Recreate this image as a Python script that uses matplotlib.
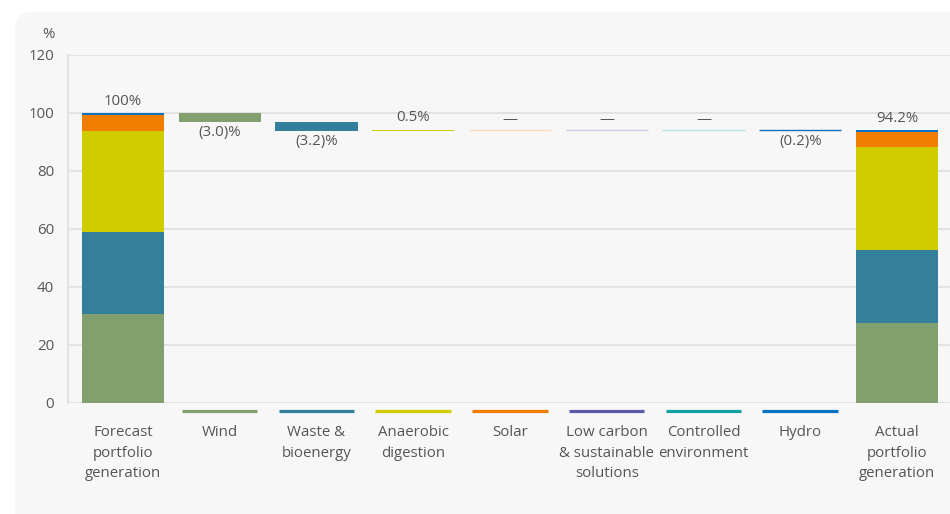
import matplotlib
matplotlib.use("Agg")
import matplotlib.pyplot as plt
from matplotlib.patches import FancyBboxPatch

plt.rcParams['font.family'] = ['Open Sans', 'DejaVu Sans']

categories = ["Forecast\nportfolio\ngeneration", "Wind", "Waste &\nbioenergy", "Anaerobic\ndigestion",
              "Solar", "Low carbon\n& sustainable\nsolutions", "Controlled\nenvironment", "Hydro",
              "Actual\nportfolio\ngeneration"]
segments = ["Wind", "Waste & bioenergy", "Anaerobic digestion", "Solar",
            "Low carbon & sustainable solutions", "Controlled environment", "Hydro"]
forecast = [30.6, 28.4, 34.8, 5.4, 0.0, 0.0, 0.8]
changes = [-3.0, -3.2, 0.5, 0.0, 0.0, 0.0, -0.2]
actual = [27.6, 25.2, 35.4, 5.4, 0.0, 0.0, 0.6]
change_labels = ["(3.0)%", "(3.2)%", "0.5%", "—", "—", "—", "(0.2)%"]
total_labels = ["100%", "94.2%"]
yticks = [0, 20, 40, 60, 80, 100, 120]

colors = ["#82a06e", "#337f9c", "#cfcc00", "#f07c00", "#5b5aa8", "#13a0a0", "#0a72c2"]
light = ["#c4d3b9", "#a3c6d4", "#e7e57f", "#fcd9bd", "#cfcce8", "#b5e3e6", "#9cc4e6"]
txt = "#555555"
grid = "#e2e2e2"
fs = 10.8

fig = plt.figure(figsize=(9.5, 5.14), dpi=100)
fig.patch.set_facecolor("white")

bg = fig.add_axes([0, 0, 1, 1], zorder=-5)
bg.set_axis_off()
bg.set_xlim(0, 950)
bg.set_ylim(514, 0)
bg.add_patch(FancyBboxPatch((15, 12), 1000, 540, boxstyle="round,pad=0,rounding_size=16",
                            facecolor="#f7f7f7", edgecolor="none"))

ax = fig.add_axes([68 / 950, 1 - 403 / 514, 1 - 68 / 950, (403 - 55) / 514], zorder=1)
ax.set_facecolor("none")
ax.set_ylim(0, 120)
ax.set_xlim(-0.568, 8.548)
ax.set_yticks(yticks)
ax.yaxis.grid(True, color=grid, lw=1.5, zorder=0)
ax.set_axisbelow(True)
for s in ["top", "right", "bottom"]:
    ax.spines[s].set_visible(False)
ax.spines["left"].set_color(grid)
ax.spines["left"].set_linewidth(1.5)
ax.tick_params(axis="y", length=0, labelsize=fs, labelcolor=txt, pad=10)

w = 0.85


def thin_lw(v):
    return 1.0 if abs(v) < 0.5 else 0


# Forecast stacked
bottom = 0
for v, c in zip(forecast, colors):
    if v > 0:
        ax.bar(0, v, w, bottom=bottom, color=c, edgecolor=c, lw=thin_lw(v), zorder=3)
    bottom += v
ftot = bottom
ax.annotate(total_labels[0], (0, ftot), xytext=(0, 3), textcoords="offset points",
            ha="center", va="bottom", fontsize=fs, color=txt)

# waterfall
cum = ftot
for i, (d, lab) in enumerate(zip(changes, change_labels)):
    x = i + 1
    if d < 0:
        ax.bar(x, -d, w, bottom=cum + d, color=colors[i], edgecolor=colors[i], lw=thin_lw(d), zorder=3)
        ax.annotate(lab, (x, cum + d), xytext=(0, -2.5), textcoords="offset points",
                    ha="center", va="top", fontsize=fs, color=txt)
        cum += d
    elif d > 0:
        ax.bar(x, d, w, bottom=cum, color=colors[i], edgecolor=colors[i], lw=thin_lw(d), zorder=3)
        ax.annotate(lab, (x, cum + d), xytext=(0, 3), textcoords="offset points",
                    ha="center", va="bottom", fontsize=fs, color=txt)
        cum += d
    else:
        ax.hlines(cum, x - w / 2, x + w / 2, color=light[i], lw=1, zorder=3)
        ax.annotate(lab, (x, cum), xytext=(0, 2), textcoords="offset points",
                    ha="center", va="bottom", fontsize=fs, color=txt)
    # colour key below axis
    ax.hlines(-2.6, x - 0.39, x + 0.39, color=colors[i], lw=2.3, clip_on=False, zorder=3)

# Actual stacked
bottom = 0
for v, c in zip(actual, colors):
    if v > 0:
        ax.bar(8, v, w, bottom=bottom, color=c, edgecolor=c, lw=thin_lw(v), zorder=3)
    bottom += v
ax.annotate(total_labels[1], (8, bottom), xytext=(0, 3), textcoords="offset points",
            ha="center", va="bottom", fontsize=fs, color=txt)

ax.set_xticks(range(len(categories)))
ax.set_xticklabels(categories, fontsize=fs, color=txt, linespacing=1.48, va="top")
ax.tick_params(axis="x", length=0, pad=16)

fig.text(48 / 950, 1 - 35 / 514, "%", ha="center", va="center", fontsize=fs, color=txt)

fig.savefig("out.png", dpi=100, facecolor=fig.get_facecolor())
